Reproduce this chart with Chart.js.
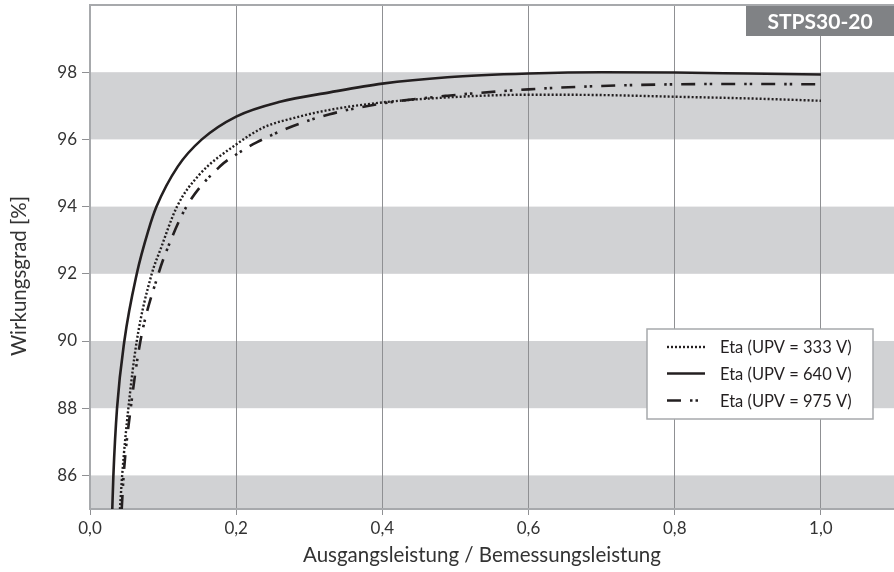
<!DOCTYPE html>
<html>
<head>
<meta charset="utf-8">
<script src="https://cdn.jsdelivr.net/npm/chart.js@4/dist/chart.umd.min.js"></script>
<style>
html,body{margin:0;padding:0;background:#fff;}
#wrap{width:894px;height:572px;position:relative;}
</style>
</head>
<body>
<div id="wrap"><canvas id="c" width="894" height="572"></canvas></div>
<script>
// ---- data ----
const seriesLabels = ['Eta (UPV = 333 V)', 'Eta (UPV = 640 V)', 'Eta (UPV = 975 V)'];

const x333 = [0.041,0.044,0.0525,0.064,0.0845,0.096,0.119,0.150,0.2,0.237,0.283,0.328,0.4,0.489,0.6,0.7,0.8,0.9,1.0];
const y333 = [85,86,88,90,92,92.7,94,94.96,95.85,96.35,96.66,96.88,97.1,97.25,97.33,97.32,97.27,97.22,97.15];

const x640 = [0.0305,0.032,0.037,0.047,0.064,0.080,0.091,0.12,0.153,0.2,0.26,0.328,0.4,0.489,0.6,0.7,0.8,0.9,1.0];
const y640 = [85,86,88,90,92,93.3,94,95.19,96,96.68,97.12,97.4,97.66,97.85,97.96,98.0,97.99,97.96,97.93];

const x975 = [0.0434,0.046,0.0557,0.069,0.0936,0.105,0.132,0.178,0.2,0.228,0.278,0.328,0.4,0.489,0.6,0.7,0.8,0.9,1.0];
const y975 = [85,86,88,90,92,92.7,94,95.2,95.55,95.91,96.4,96.75,97.07,97.3,97.49,97.59,97.64,97.65,97.64];

const xTickValues = [0,0.2,0.4,0.6,0.8,1.0];
const xTickLabels = ['0,0','0,2','0,4','0,6','0,8','1,0'];
const yTickValues = [86,88,90,92,94,96,98];
const yTickLabels = ['86','88','90','92','94','96','98'];
const bands = [[96,98],[92,94],[88,90],[85,86]];
const modelLabel = 'STPS30-20';
const xTitle = 'Ausgangsleistung / Bemessungsleistung';
const yTitle = 'Wirkungsgrad [%]';

// ---- styles ----
const FONT = 'Lato, "Open Sans", sans-serif';
const ink = '#231f20';
const dashes = [[2,2], [], [14,9,2.5,3,2.5,9]];
const widths = [2.4, 2.6, 2.6];

function pts(xs, ys){ return xs.map((x,i)=>({x:x, y:ys[i]})); }

const bandPlugin = {
  id:'bands',
  beforeDraw(chart){
    const {ctx, chartArea:a, scales:{y}} = chart;
    ctx.save();
    ctx.fillStyle = '#d1d2d4';
    bands.forEach(([lo,hi])=>{
      const t = y.getPixelForValue(hi), b = y.getPixelForValue(lo);
      ctx.fillRect(a.left, t, a.right-a.left, b-t);
    });
    ctx.restore();
  },
  afterDraw(chart){
    const {ctx, chartArea:a} = chart;
    ctx.save();
    // top border
    ctx.strokeStyle = '#a7a9ac';
    ctx.lineWidth = 2;
    ctx.beginPath();
    ctx.moveTo(a.left, a.top); ctx.lineTo(a.right, a.top);
    ctx.stroke();
    // axis titles
    ctx.fillStyle = '#333';
    ctx.font = '20.5px ' + FONT;
    ctx.textAlign = 'center';
    ctx.textBaseline = 'middle';
    ctx.fillText(xTitle, 482, 555);
    ctx.save();
    ctx.translate(19, 276);
    ctx.rotate(-Math.PI/2);
    ctx.fillText(yTitle, 0, 0);
    ctx.restore();
    // model label box
    const bx = 746, by = a.top + 1, bw = a.right - bx, bh = 30;
    ctx.fillStyle = '#808285';
    ctx.fillRect(bx, by, bw, bh);
    ctx.fillStyle = '#ffffff';
    ctx.font = 'bold 21px ' + FONT;
    ctx.fillText(modelLabel, bx + bw/2, by + bh/2 + 1);
    // legend
    const lx = 647, ly = 329, lw = 226, lh = 90;
    ctx.fillStyle = '#ffffff';
    ctx.fillRect(lx, ly, lw, lh);
    ctx.strokeStyle = '#a7a9ac';
    ctx.lineWidth = 1.5;
    ctx.strokeRect(lx, ly, lw, lh);
    const rows = [347, 373.5, 400.5];
    chart.data.datasets.forEach((ds, i)=>{
      ctx.save();
      ctx.strokeStyle = ink;
      ctx.lineWidth = ds.borderWidth;
      ctx.setLineDash(ds.borderDash || []);
      ctx.beginPath();
      ctx.moveTo(667, rows[i]); ctx.lineTo(705, rows[i]);
      ctx.stroke();
      ctx.restore();
      ctx.fillStyle = ink;
      ctx.font = '16.5px ' + FONT;
      ctx.textAlign = 'left';
      ctx.textBaseline = 'middle';
      ctx.fillText(ds.label, 720, rows[i] + 1);
    });
    ctx.restore();
  }
};

new Chart(document.getElementById('c'), {
  type:'line',
  data:{
    datasets:[
      {label:seriesLabels[0], data:pts(x333,y333)},
      {label:seriesLabels[1], data:pts(x640,y640)},
      {label:seriesLabels[2], data:pts(x975,y975)}
    ].map((d,i)=>Object.assign(d,{
      borderColor:ink, borderWidth:widths[i], borderDash:dashes[i],
      pointRadius:0, fill:false, cubicInterpolationMode:'monotone', borderCapStyle:'butt'
    }))
  },
  options:{
    responsive:false,
    animation:false,
    layout:{padding:{top:5,right:0,left:0,bottom:0}},
    plugins:{legend:{display:false}, tooltip:{enabled:false}},
    scales:{
      x:{
        type:'linear', min:0, max:1.1,
        afterBuildTicks(s){ s.ticks = xTickValues.map(v=>({value:v})); },
        afterFit(s){ s.height = 63; s.paddingLeft = 0; s.paddingRight = 0; },
        ticks:{ callback:(v,i)=>xTickLabels[i], color:'#333', font:{family:FONT,size:17}, padding:3, maxRotation:0 },
        grid:{ color:'#8f9093', lineWidth:1, tickLength:6, drawOnChartArea:true, tickColor:'#8f9093' },
        border:{ display:true, color:'#a7a9ac', width:2 },
        title:{ display:false, text:xTitle }
      },
      y:{
        type:'linear', min:85, max:100,
        afterBuildTicks(s){ s.ticks = yTickValues.map(v=>({value:v})); },
        afterFit(s){ s.width = 90; s.paddingTop = 0; s.paddingBottom = 0; },
        ticks:{ callback:(v,i)=>yTickLabels[i], color:'#333', font:{family:FONT,size:17}, padding:5 },
        grid:{ drawOnChartArea:false, tickLength:8, color:'#8f9093', tickColor:'#8f9093' },
        border:{ display:true, color:'#a7a9ac', width:2 },
        title:{ display:false, text:yTitle }
      }
    }
  },
  plugins:[bandPlugin]
});
</script>
</body>
</html>
